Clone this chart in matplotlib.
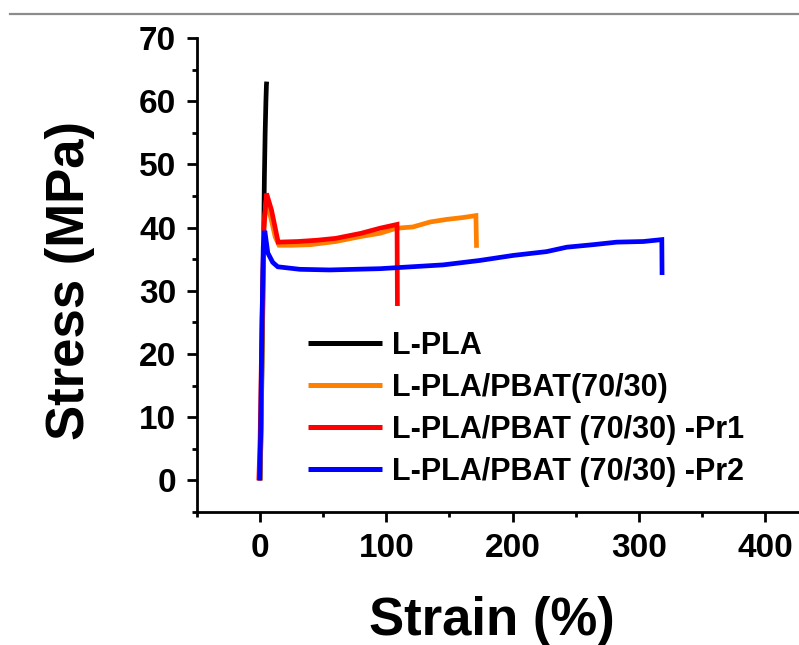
import matplotlib
matplotlib.use("Agg")
import matplotlib.pyplot as plt
from matplotlib.lines import Line2D
from matplotlib.ticker import MultipleLocator

# Tensile stress-strain curves
pla_strain = [0, 0.8, 1.5, 2.2, 2.8, 3.4, 4.0, 4.6, 5.0, 5.2]
pla_stress = [0, 8, 18, 28, 38, 48, 55, 60, 62.5, 63.1]

blend_strain = [0, 1.0, 2.0, 3.0, 5.0, 8.0, 12.0, 15.0, 25, 40, 60, 80, 95, 108,
                121, 135, 148, 161, 171, 171.5]
blend_stress = [0, 12, 28, 40, 44.5, 42.0, 38.5, 37.2, 37.2, 37.3, 37.8, 38.6,
                39.1, 39.9, 40.1, 40.9, 41.3, 41.6, 41.9, 36.8]

pr1_strain = [-1.0, 0.0, 1.5, 3.0, 5.1, 9.0, 14.3, 30, 45, 60, 80, 95, 108.5, 108.8]
pr1_stress = [0, 6.6, 25, 40, 45.4, 42.8, 37.7, 37.8, 38.0, 38.3, 39.1, 39.9, 40.5, 27.6]

pr2_strain = [-0.3, 0.5, 1.5, 2.5, 3.7, 6.1, 10, 14, 31.5, 55, 95, 145, 174,
              200.6, 227, 243, 264, 282.6, 303.7, 318.3, 318.5]
pr2_stress = [0, 8, 25, 37, 39.5, 36.0, 34.5, 33.8, 33.4, 33.3, 33.5, 34.1, 34.8,
              35.6, 36.2, 36.9, 37.3, 37.7, 37.8, 38.1, 32.5]

labels = ["L-PLA", "L-PLA/PBAT(70/30)", "L-PLA/PBAT (70/30) -Pr1",
          "L-PLA/PBAT (70/30) -Pr2"]
colors = ["#000000", "#ff8000", "#ff0000", "#0000ff"]

x_ticks = [0, 100, 200, 300, 400]
y_ticks = [0, 10, 20, 30, 40, 50, 60, 70]

plt.rcParams["font.family"] = ["Liberation Sans", "DejaVu Sans"]
plt.rcParams["font.weight"] = "bold"

W, H = 799, 645
fig = plt.figure(figsize=(W / 100, H / 100), dpi=100)
ax = fig.add_axes([197 / W, 1 - 512 / H, (W - 197) / W, (512 - 38) / H])

series = [(pla_strain, pla_stress), (blend_strain, blend_stress),
          (pr1_strain, pr1_stress), (pr2_strain, pr2_stress)]
for (sx, sy), lab, c in zip(series, labels, colors):
    ax.plot(sx, sy, color=c, lw=3.4, label=lab, solid_joinstyle="miter",
            solid_capstyle="butt")

ax.set_xlim(-50, 427)
ax.set_ylim(-5, 70)
ax.set_xticks(x_ticks)
ax.set_yticks(y_ticks)
ax.xaxis.set_minor_locator(MultipleLocator(50))
ax.yaxis.set_minor_locator(MultipleLocator(5))
ax.set_xticklabels([str(v) for v in x_ticks])
ax.set_yticklabels([str(v) for v in y_ticks])

for s in ("top", "right"):
    ax.spines[s].set_visible(False)
for s in ("left", "bottom"):
    ax.spines[s].set_linewidth(2.0)

ax.tick_params(which="major", direction="out", length=7, width=2.0,
               labelsize=24, pad=8)
ax.tick_params(which="minor", direction="out", length=3.5, width=2.0)
for t in ax.get_xticklabels() + ax.get_yticklabels():
    t.set_fontweight("bold")

ax.set_xlabel("Strain (%)", fontsize=38, fontweight="bold")
ax.set_ylabel("Stress (MPa)", fontsize=38, fontweight="bold")
ax.xaxis.set_label_coords((491.5 - 197) / (W - 197), -(596 - 512) / 474)
ax.yaxis.set_label_coords((95 - 197) / (W - 197), (512 - 280) / 474)

leg = ax.legend(loc="upper left", bbox_to_anchor=(308 / W, 1 - 331 / H),
                bbox_transform=fig.transFigure, frameon=False,
                prop={"size": 22, "weight": "bold"}, handlelength=2.43,
                handletextpad=0.33, labelspacing=0.39, borderpad=0,
                borderaxespad=0)
for h in leg.get_lines():
    h.set_linewidth(3.6)

# thin rule across the top of the figure
fig.add_artist(Line2D([10 / W, 1.0], [1 - 14 / H, 1 - 14 / H],
                      transform=fig.transFigure, color="#8c8c8c", lw=1.6))

fig.savefig("out.png", dpi=100)
